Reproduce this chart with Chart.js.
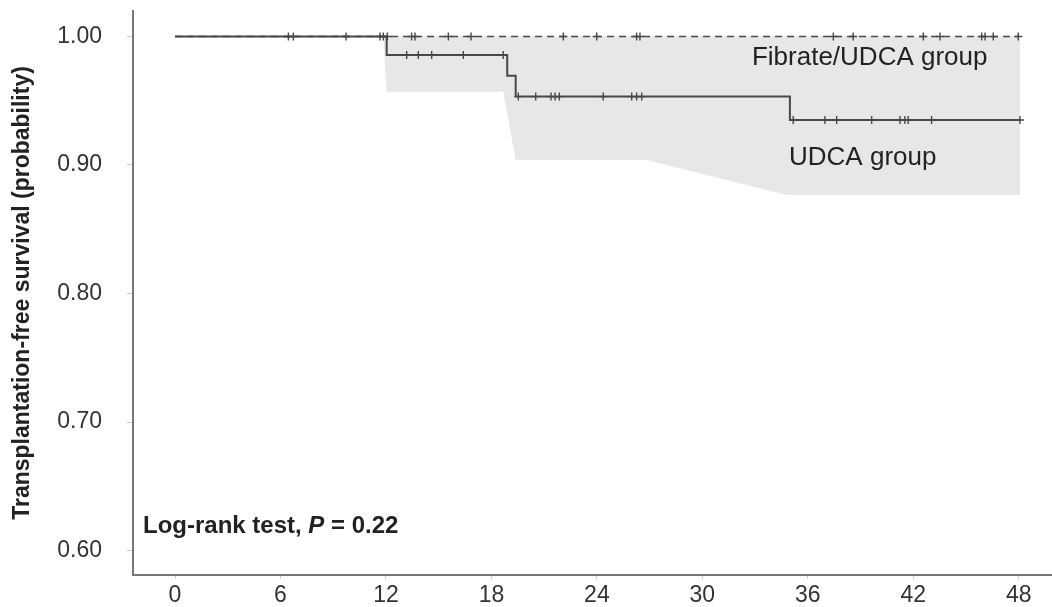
<!DOCTYPE html>
<html>
<head>
<meta charset="utf-8">
<script src="https://cdn.jsdelivr.net/npm/chart.js@4.4.1/dist/chart.umd.min.js"></script>
<style>
  html, body { margin: 0; padding: 0; background: #fff; }
  #wrap { width: 1052px; height: 607px; }
</style>
</head>
<body>
<div id="wrap"><canvas id="kmChart" width="1052" height="607"></canvas></div>
<script>
// axis ticks
const xTicks = [0, 6, 12, 18, 24, 30, 36, 42, 48];
const yTicks = [0.60, 0.70, 0.80, 0.90, 1.00];
const yTickLabels = ['0.60', '0.70', '0.80', '0.90', '1.00'];

// UDCA group: KM steps (time in months, survival after that time)
const udcaTimes = [0, 12.04, 18.9, 19.38, 34.98, 48.07];
const udcaSurv = [1.0, 0.9856, 0.9695, 0.9532, 0.935, 0.935];
const udcaCensor = [13.18, 13.84, 14.6, 16.4, 18.67, 19.53, 20.52, 21.39, 21.62, 21.86,
  24.36, 25.98, 26.26, 26.55, 35.17, 36.97, 37.64, 39.63, 41.24, 41.52, 41.71, 43.04, 48.07];

// UDCA group: lower confidence bound (shaded up to 1.0)
const ciTimes = [11.85, 12.04, 18.67, 19.38, 26.83, 34.8, 48.07];
const ciLower = [1.0, 0.957, 0.957, 0.9039, 0.9039, 0.8767, 0.8767];

// Fibrate/UDCA group: no events
const fibTimes = [0, 47.97];
const fibSurv = [1.0, 1.0];
const fibCensor = [6.45, 6.73, 9.73, 11.66, 11.85, 12.08, 13.46, 13.65, 15.55, 16.84,
  22.09, 23.99, 26.26, 26.45, 37.45, 38.58, 42.57, 43.52, 45.89, 46.08, 46.55, 47.97];

const FONT = '"Liberation Sans", Arial, sans-serif';
const LINE = '#484848';

// survival value of a step curve at time t
function survAt(times, surv, t) {
  let s = surv[0];
  for (let i = 0; i < times.length; i++) {
    if (times[i] <= t) s = surv[i];
  }
  return s;
}

const toPts = (xs, ys) => xs.map((x, i) => ({ x, y: ys[i] }));
const censorPts = (cs, times, surv) => cs.map(t => ({ x: t, y: survAt(times, surv, t) }));

// group labels and log-rank note
const textPlugin = {
  id: 'kmText',
  afterDatasetsDraw(chart) {
    const { ctx, chartArea } = chart;
    const x = chart.scales.x, y = chart.scales.y;
    ctx.save();
    ctx.fillStyle = '#222';
    ctx.textBaseline = 'alphabetic';
    ctx.textAlign = 'left';
    ctx.font = '26px ' + FONT;
    ctx.fillText('Fibrate/UDCA group', x.getPixelForValue(32.82), y.getPixelForValue(0.9778));
    ctx.fillText('UDCA group', x.getPixelForValue(34.93), y.getPixelForValue(0.90));

    let px = chartArea.left + 10;
    const py = chartArea.bottom - 42;
    ctx.font = 'bold 24px ' + FONT;
    ctx.fillText('Log-rank test, ', px, py);
    px += ctx.measureText('Log-rank test, ').width;
    ctx.font = 'italic bold 24px ' + FONT;
    ctx.fillText('P', px, py);
    px += ctx.measureText('P').width;
    ctx.font = 'bold 24px ' + FONT;
    ctx.fillText(' = 0.22', px, py);
    ctx.restore();
  }
};

const censorStyle = {
  showLine: false,
  pointStyle: 'cross',
  pointRadius: 4,
  pointBorderWidth: 1.4,
  pointBorderColor: LINE,
  pointBackgroundColor: LINE
};

// keep the plot box fixed: no extra room for half labels
function noPad(s) {
  s.paddingTop = 0; s.paddingBottom = 0;
  s.paddingLeft = 0; s.paddingRight = 0;
}

new Chart(document.getElementById('kmChart').getContext('2d'), {
  type: 'line',
  data: {
    datasets: [
      { label: 'UDCA censored', data: censorPts(udcaCensor, udcaTimes, udcaSurv), order: 0, ...censorStyle },
      { label: 'Fibrate/UDCA censored', data: censorPts(fibCensor, fibTimes, fibSurv), order: 0, ...censorStyle },
      {
        label: 'UDCA group', data: toPts(udcaTimes, udcaSurv), order: 1,
        stepped: 'before', borderColor: LINE, borderWidth: 2, pointRadius: 0, fill: false
      },
      {
        label: 'Fibrate/UDCA group', data: toPts(fibTimes, fibSurv), order: 2,
        borderColor: LINE, borderWidth: 1.5, borderDash: [7, 5], pointRadius: 0, fill: false
      },
      {
        label: 'UDCA CI', data: toPts(ciTimes, ciLower), order: 3,
        borderWidth: 0, borderColor: 'rgba(0,0,0,0)', pointRadius: 0,
        backgroundColor: '#e7e7e7', fill: { value: 1.0 }, tension: 0
      }
    ]
  },
  options: {
    responsive: false,
    animation: false,
    events: [],
    layout: { autoPadding: false, padding: { top: 11, right: 0, left: 0, bottom: 0 } },
    plugins: { legend: { display: false }, tooltip: { enabled: false } },
    scales: {
      x: {
        type: 'linear',
        min: -2.39,
        max: 49.89,
        afterBuildTicks: s => { s.ticks = xTicks.map(v => ({ value: v })); },
        afterFit: s => { s.height = 32; noPad(s); },
        border: { color: '#777', width: 2 },
        grid: { drawOnChartArea: false, drawTicks: true, tickLength: 4, color: '#ccc' },
        ticks: {
          autoSkip: false, maxRotation: 0, padding: 3, color: '#333',
          font: { family: FONT, size: 23 }
        }
      },
      y: {
        type: 'linear',
        min: 0.581,
        max: 1.0198,
        afterBuildTicks: s => { s.ticks = yTicks.map(v => ({ value: v })); },
        afterFit: s => { s.width = 133; noPad(s); },
        border: { color: '#777', width: 2 },
        grid: { drawOnChartArea: false, drawTicks: true, tickLength: 6, color: '#ccc' },
        ticks: {
          padding: 25, color: '#333',
          font: { family: FONT, size: 23 },
          callback: (v, i) => yTickLabels[i]
        },
        title: {
          display: true,
          text: 'Transplantation-free survival (probability)',
          color: '#222',
          font: { family: FONT, size: 23, weight: 'bold' },
          padding: { top: 9, bottom: 0 }
        }
      }
    }
  },
  plugins: [textPlugin]
});
</script>
</body>
</html>
